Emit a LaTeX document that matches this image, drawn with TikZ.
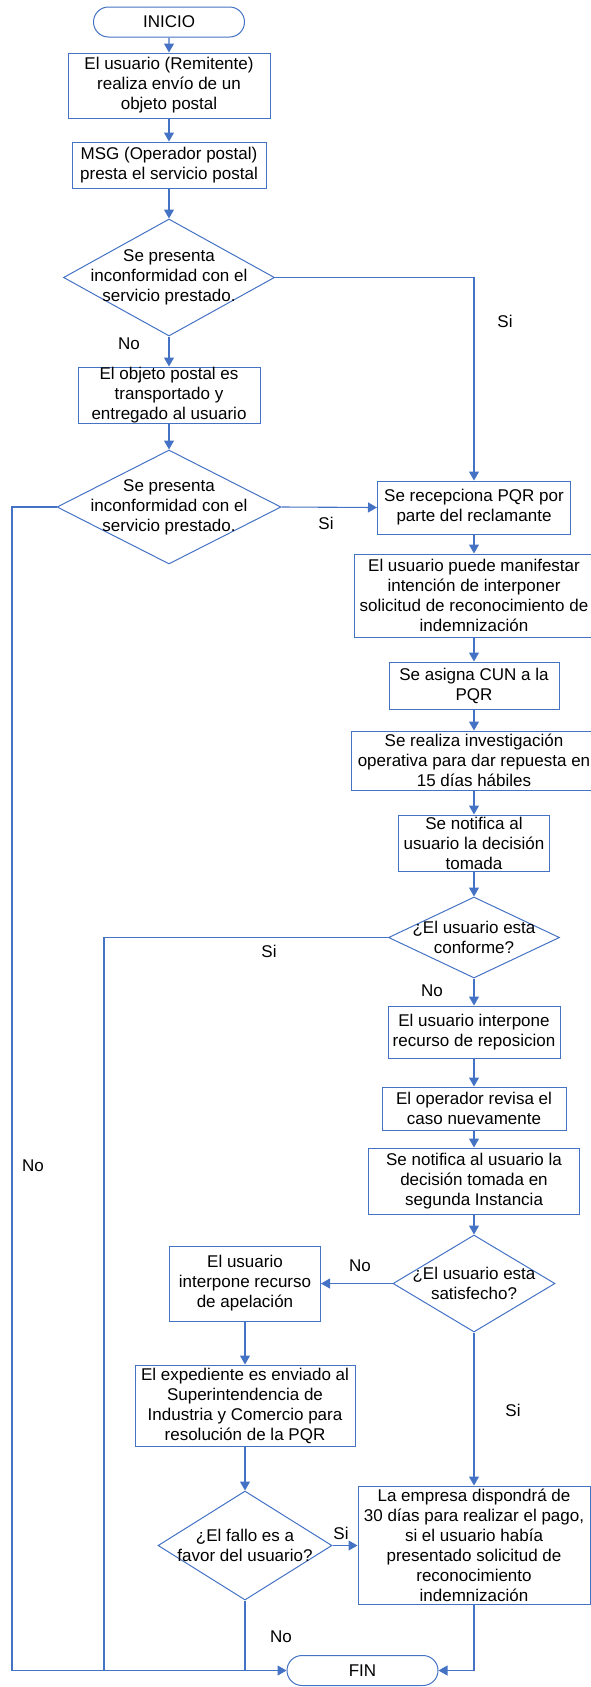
\documentclass[tikz,border=0pt]{standalone}
\usepackage{fontspec}
\setmainfont{Liberation Sans}
\usetikzlibrary{arrows.meta}
\usetikzlibrary{shapes.geometric}
\usetikzlibrary{shapes.misc}
\definecolor{flowblue}{RGB}{68,114,196}
\tikzset{
    box/.style={draw=flowblue, line width=1pt, rectangle, align=center, inner sep=0pt},
    term/.style={draw=flowblue, line width=1pt, rounded rectangle, inner sep=0pt,
        minimum width=151pt, minimum height=30pt},
    decision/.style={draw=flowblue, line width=1pt, diamond, inner sep=0pt},
    dtext/.style={align=center, inner sep=0pt},
    arr/.style={draw=flowblue, line width=1.1pt, -{Triangle[length=9pt,width=10pt]}},
    con/.style={draw=flowblue, line width=1.1pt},
    lbl/.style={inner sep=0pt}
}

\begin{document}
\begin{tikzpicture}[x=1pt,y=-1pt,font=\fontsize{17}{20}\selectfont]
    \useasboundingbox (0,0) rectangle (591,1687);

    % left column
    \node[term] (ini) at (169,22) {INICIO};
    \node[box, minimum width=202pt, minimum height=65pt] (b1) at (169,85.5)
        {El usuario (Remitente)\\realiza envío de un\\objeto postal};
    \node[box, minimum width=194pt, minimum height=46pt] (b2) at (169,165)
        {MSG (Operador postal)\\presta el servicio postal};
    \node[decision, minimum width=211pt, minimum height=117pt] (d1) at (169,277.5) {};
    \node[dtext] (d1t) at (d1) {Se presenta\\inconformidad con el\\servicio prestado.};
    \node[box, minimum width=182pt, minimum height=56pt] (b3) at (169,395)
        {El objeto postal es\\transportado  y\\entregado al usuario};
    \node[decision, minimum width=224pt, minimum height=114pt] (d2) at (169,507) {};
    \node[dtext] (d2t) at (d2) {Se presenta\\inconformidad con el\\servicio prestado.};

    % right column
    \node[box, minimum width=193pt, minimum height=53pt] (r1) at (474,507.5)
        {Se recepciona PQR por\\parte del reclamante};
    \node[box, minimum width=240pt, minimum height=83pt] (r2) at (474,595.5)
        {El usuario puede manifestar\\intención de interponer\\solicitud de reconocimiento de\\indemnización};
    \node[box, minimum width=170pt, minimum height=47pt] (r3) at (474,685.5)
        {Se asigna CUN a la\\PQR};
    \node[box, minimum width=246pt, minimum height=59pt] (r4) at (474,760.5)
        {Se realiza investigación\\operativa para dar repuesta en\\15 días hábiles};
    \node[box, minimum width=151pt, minimum height=56pt] (r5) at (474,843)
        {Se notifica al\\usuario la decisión\\tomada};
    \node[decision, minimum width=171pt, minimum height=81pt] (d3) at (474,937.5) {};
    \node[dtext] (d3t) at (d3) {¿El usuario esta\\conforme?};
    \node[box, minimum width=172pt, minimum height=52pt] (r6) at (474,1032)
        {El usuario interpone\\recurso de reposicion};
    \node[box, minimum width=184pt, minimum height=43pt] (r7) at (474,1108.5)
        {El operador revisa el\\caso nuevamente};
    \node[box, minimum width=211pt, minimum height=66pt] (r8) at (474,1181)
        {Se notifica al usuario la\\decisión tomada en\\segunda Instancia};
    \node[decision, minimum width=162pt, minimum height=97pt] (d4) at (474,1283.5) {};
    \node[dtext] (d4t) at (d4) {¿El usuario esta\\satisfecho?};
    \node[box, minimum width=232pt, minimum height=118pt] (r9) at (474,1545)
        {La empresa dispondrá de\\30 días para realizar el pago,\\si el usuario había\\presentado solicitud de\\reconocimiento\\indemnización};

    % appeal branch
    \node[box, minimum width=151pt, minimum height=75pt] (a1) at (245,1283.5)
        {El usuario\\interpone recurso\\de apelación};
    \node[box, minimum width=220pt, minimum height=81pt] (a2) at (245,1405.5)
        {El expediente es enviado al\\Superintendencia de\\Industria y Comercio para\\resolución de la PQR};
    \node[decision, minimum width=174pt, minimum height=109pt] (d5) at (245,1545.5) {};
    \node[dtext] (d5t) at (d5) {¿El fallo es a\\favor del usuario?};

    \node[term] (fin) at (362.5,1670.5) {FIN};

    \coordinate (lft) at (12,507);
    \coordinate (mid) at (104,937.5);

    % connectors
    \draw[arr] (ini) -- (b1);
    \draw[arr] (b1) -- (b2);
    \draw[arr] (b2) -- (d1);
    \draw[arr] (d1) -- (b3);
    \draw[arr] (b3) -- (d2);
    \draw[arr] (d1.east) -| (r1.north);
    \draw[arr] (d2.east) -- (r1.west);
    \draw[arr] (d2.west) -- (lft) |- (fin.west);
    \draw[arr] (r1) -- (r2);
    \draw[arr] (r2) -- (r3);
    \draw[arr] (r3) -- (r4);
    \draw[arr] (r4) -- (r5);
    \draw[arr] (r5) -- (d3);
    \draw[con] (d3.west) -- (mid) -- (mid |- fin.west);
    \draw[arr] (d3) -- (r6);
    \draw[arr] (r6) -- (r7);
    \draw[arr] (r7) -- (r8);
    \draw[arr] (r8) -- (d4);
    \draw[arr] (d4.west) -- (a1.east);
    \draw[arr] (d4) -- (r9);
    \draw[arr] (a1) -- (a2);
    \draw[arr] (a2) -- (d5);
    \draw[arr] (d5.east) -- (d5.east -| r9.west);
    \draw[con] (d5.south) -- (d5.south |- fin.west);
    \draw[arr] (r9.south) |- (fin.east);

    % branch labels
    \node[lbl] (si1) at (505,321) {Si};
    \node[lbl] (no1) at (129,344) {No};
    \node[lbl] (si2) at (326,523) {Si};
    \node[lbl] (no2) at (33,1166) {No};
    \node[lbl] (si3) at (269,951) {Si};
    \node[lbl] (no3) at (432,991) {No};
    \node[lbl] (no4) at (360,1266) {No};
    \node[lbl] (si4) at (513,1410) {Si};
    \node[lbl] (si5) at (341,1533) {Si};
    \node[lbl] (no5) at (281,1637) {No};
\end{tikzpicture}
\end{document}
